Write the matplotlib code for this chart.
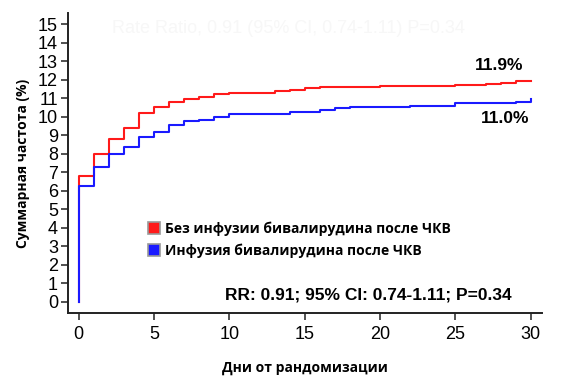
import matplotlib
matplotlib.use("Agg")
import matplotlib.pyplot as plt
from matplotlib.lines import Line2D

# cumulative incidence (%) by day
red_days = [0, 0, 1, 2, 3, 4, 5, 6, 7, 8, 9, 10, 13, 14, 15, 16, 20, 25, 27, 28, 29, 30]
red_vals = [0, 6.8, 8.0, 8.8, 9.4, 10.2, 10.5, 10.8, 10.95, 11.05, 11.2, 11.28, 11.38,
            11.43, 11.52, 11.6, 11.66, 11.71, 11.78, 11.84, 11.95, 11.95]
blue_days = [0, 0, 1, 2, 3, 4, 5, 6, 7, 8, 9, 10, 14, 16, 17, 18, 22, 25, 29, 30]
blue_vals = [0, 6.25, 7.3, 8.0, 8.38, 8.9, 9.15, 9.53, 9.75, 9.82, 10.0, 10.15, 10.23,
             10.36, 10.47, 10.52, 10.58, 10.72, 10.81, 10.94]

labels = ["Без инфузии бивалирудина после ЧКВ", "Инфузия бивалирудина после ЧКВ"]
end_labels = ["11.9%", "11.0%"]
x_ticks = [0, 5, 10, 15, 20, 25, 30]
y_ticks = list(range(16))

arial = "Liberation Sans"
calibri = "Open Sans"

fig = plt.figure(figsize=(5.87, 3.87), dpi=100)
ax = fig.add_axes([0.1153, 0.1904, 0.8075, 0.776])

ax.plot(red_days, red_vals, drawstyle="steps-post", color="#ff1a1a", lw=1.5)
ax.plot(blue_days, blue_vals, drawstyle="steps-post", color="#1a1aff", lw=1.5)

ax.set_xlim(-0.73, 30.72)
ax.set_ylim(-0.63, 15.6)
ax.set_xticks(x_ticks)
ax.set_yticks(y_ticks)
for lab in ax.get_xticklabels() + ax.get_yticklabels():
    lab.set_fontfamily(arial)
    lab.set_fontsize(13)
ax.tick_params(axis="both", direction="out", length=5, width=1.2, color="#333333")
ax.tick_params(axis="x", pad=4)
ax.tick_params(axis="y", pad=2)
for side in ["top", "right"]:
    ax.spines[side].set_visible(False)
for side in ["left", "bottom"]:
    ax.spines[side].set_linewidth(1.4)
    ax.spines[side].set_color("#222222")

ax.set_xlabel("Дни от рандомизации", fontfamily=calibri, fontweight="bold",
              fontsize=10, labelpad=13)
ax.set_ylabel("Суммарная частота (%)", fontfamily=calibri, fontweight="bold",
              fontsize=10, labelpad=6)

ax.text(27.9, 12.75, end_labels[0], fontfamily=arial, fontweight="bold",
        fontsize=12.5, ha="center", va="center")
ax.text(28.3, 9.9, end_labels[1], fontfamily=arial, fontweight="bold",
        fontsize=12.5, ha="center", va="center")

ax.text(19.2, 0.36, "RR: 0.91; 95% CI: 0.74-1.11; P=0.34", fontfamily=arial,
        fontweight="bold", fontsize=12.5, ha="center", va="center")

# faint header left over in the original slide
ax.text(13.9, 14.75, "Rate Ratio, 0.91 (95% CI, 0.74-1.11) P=0.34", fontfamily=arial,
        fontsize=13, color="#f7f7f7", ha="center", va="center")

handles = [
    Line2D([], [], ls="none", marker="s", markersize=9, markerfacecolor="#ff1a1a",
           markeredgecolor="#999999", markeredgewidth=1.2),
    Line2D([], [], ls="none", marker="s", markersize=9, markerfacecolor="#1a1aff",
           markeredgecolor="#999999", markeredgewidth=1.2),
]
leg = ax.legend(handles, labels, loc="upper left", bbox_to_anchor=(0.155, 0.325),
                frameon=False, handletextpad=0.3, labelspacing=0.55,
                handlelength=1.0, borderaxespad=0,
                prop={"family": calibri, "weight": "bold", "size": 10})

fig.savefig("out.png", dpi=100)
